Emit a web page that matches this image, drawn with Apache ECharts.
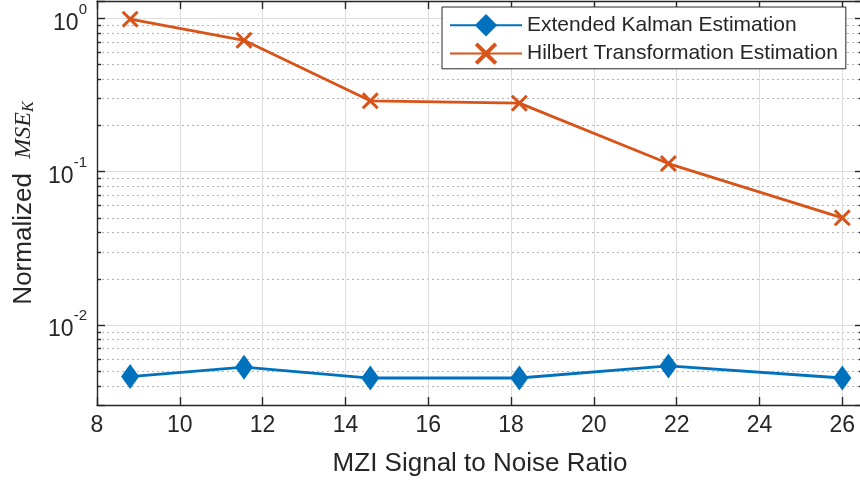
<!DOCTYPE html>
<html>
<head>
<meta charset="utf-8">
<script src="https://cdn.jsdelivr.net/npm/echarts@6/dist/echarts.min.js"></script>
<style>
  html, body { margin: 0; padding: 0; background: #fff; }
  #chart { width: 860px; height: 483px; }
</style>
</head>
<body>
<div id="chart"></div>
<script>
// values
const snr = [8.8, 11.55, 14.6, 18.2, 21.8, 26];
const kalmanMse = [0.0046, 0.0053, 0.0045, 0.0045, 0.0054, 0.0045];
const hilbertMse = [0.99, 0.72, 0.29, 0.28, 0.113, 0.050];
const seriesNames = ['Extended Kalman Estimation', 'Hilbert Transformation Estimation'];
const xRange = [8, 26.5];
const yRange = [0.003, 1.3];

const AxisColor = '#262626';
const GridColor = '#dedede';
const MinorColor = '#b4b4b4';
const Blue = '#0072BD';
const Orange = '#D95319';
const Font = 'Liberation Sans, Arial, sans-serif';
const Serif = 'Liberation Serif, Times New Roman, serif';
const CrossPath = 'path://M1.25,0 L5,3.75 L8.75,0 L10,1.25 L6.25,5 L10,8.75 L8.75,10 L5,6.25 L1.25,10 L0,8.75 L3.75,5 L0,1.25 Z';
const DiamondPath = 'path://M8,0 L16,11 L8,22 L0,11 Z';

function pairs(xs, ys) {
  return xs.map(function (x, i) { return [x, ys[i]]; });
}

function powLabel(v) {
  var e = Math.round(Math.log10(v));
  if (Math.abs(v - Math.pow(10, e)) > 1e-6 * v) return '';
  return '{b|10}{s|' + e + '}';
}

function xAxisOpt(pos) {
  var top = pos == 'top';
  return {
    type: 'value',
    position: pos,
    min: xRange[0],
    max: xRange[1],
    interval: 2,
    axisLine: { show: true, onZero: false, lineStyle: { color: AxisColor, width: 1.4 } },
    axisTick: { show: true, inside: true, length: 8, lineStyle: { color: AxisColor, width: 1.4 } },
    axisLabel: {
      show: !top, showMaxLabel: false, margin: 9,
      fontSize: 23, color: AxisColor, fontFamily: Font
    },
    splitLine: { show: !top, lineStyle: { color: GridColor, width: 1 } },
    name: top ? '' : 'MZI Signal to Noise Ratio',
    nameLocation: 'middle',
    nameGap: 46,
    nameTextStyle: { fontSize: 26, color: AxisColor, fontFamily: Font }
  };
}

function yAxisOpt(pos) {
  var right = pos == 'right';
  return {
    type: 'log',
    logBase: 10,
    position: pos,
    min: yRange[0],
    max: yRange[1],
    axisLine: { show: true, lineStyle: { color: AxisColor, width: 1.4 } },
    axisTick: { show: true, inside: true, length: 8, lineStyle: { color: AxisColor, width: 1.4 } },
    minorTick: { show: true, splitNumber: 9, length: 4, lineStyle: { color: AxisColor, width: 1.4 } },
    axisLabel: {
      show: !right, margin: 10, formatter: powLabel,
      rich: {
        b: { fontSize: 23, color: AxisColor, fontFamily: Font, padding: [10, 0, 0, 0] },
        s: { fontSize: 15, color: AxisColor, fontFamily: Font, verticalAlign: 'top' }
      }
    },
    splitLine: { show: !right, lineStyle: { color: GridColor, width: 1 } },
    minorSplitLine: { show: !right, lineStyle: { color: MinorColor, width: 1.2, type: [2, 3] } },
    name: right ? '' : '{n|Normalized  }{m|MSE}{k|K}',
    nameLocation: 'middle',
    nameRotate: 90,
    nameGap: 59,
    nameTextStyle: {
      rich: {
        n: { fontSize: 26, color: AxisColor, fontFamily: Font },
        m: { fontSize: 24, color: AxisColor, fontFamily: Serif, fontStyle: 'italic' },
        k: { fontSize: 16, color: AxisColor, fontFamily: Serif, fontStyle: 'italic', padding: [10, 0, 0, 0] }
      }
    }
  };
}

const chart = echarts.init(document.getElementById('chart'), null, { renderer: 'canvas' });

chart.setOption({
  backgroundColor: '#ffffff',
  animation: false,
  grid: { left: 97, right: -3, top: 1, bottom: 78, outerBoundsMode: 'none' },
  xAxis: [xAxisOpt('bottom'), xAxisOpt('top')],
  yAxis: [yAxisOpt('left'), yAxisOpt('right')],
  legend: {
    orient: 'vertical',
    left: 442,
    top: 7,
    padding: [7, 8, 4, 7],
    itemWidth: 72,
    itemHeight: 28,
    itemGap: 6,
    symbolKeepAspect: true,
    backgroundColor: '#ffffff',
    borderColor: AxisColor,
    borderWidth: 1,
    borderRadius: 0,
    textStyle: { fontSize: 21, color: AxisColor, fontFamily: Font },
    data: seriesNames
  },
  series: [
    {
      name: seriesNames[0],
      type: 'line',
      xAxisIndex: 0,
      yAxisIndex: 0,
      data: pairs(snr, kalmanMse),
      symbol: DiamondPath,
      symbolSize: [18, 25],
      showAllSymbol: true,
      lineStyle: { color: Blue, width: 2.8 },
      itemStyle: { color: Blue }
    },
    {
      name: seriesNames[1],
      type: 'line',
      xAxisIndex: 0,
      yAxisIndex: 0,
      data: pairs(snr, hilbertMse),
      symbol: CrossPath,
      symbolSize: 17,
      showAllSymbol: true,
      lineStyle: { color: Orange, width: 2.8 },
      itemStyle: { color: Orange }
    }
  ]
});
</script>
</body>
</html>
